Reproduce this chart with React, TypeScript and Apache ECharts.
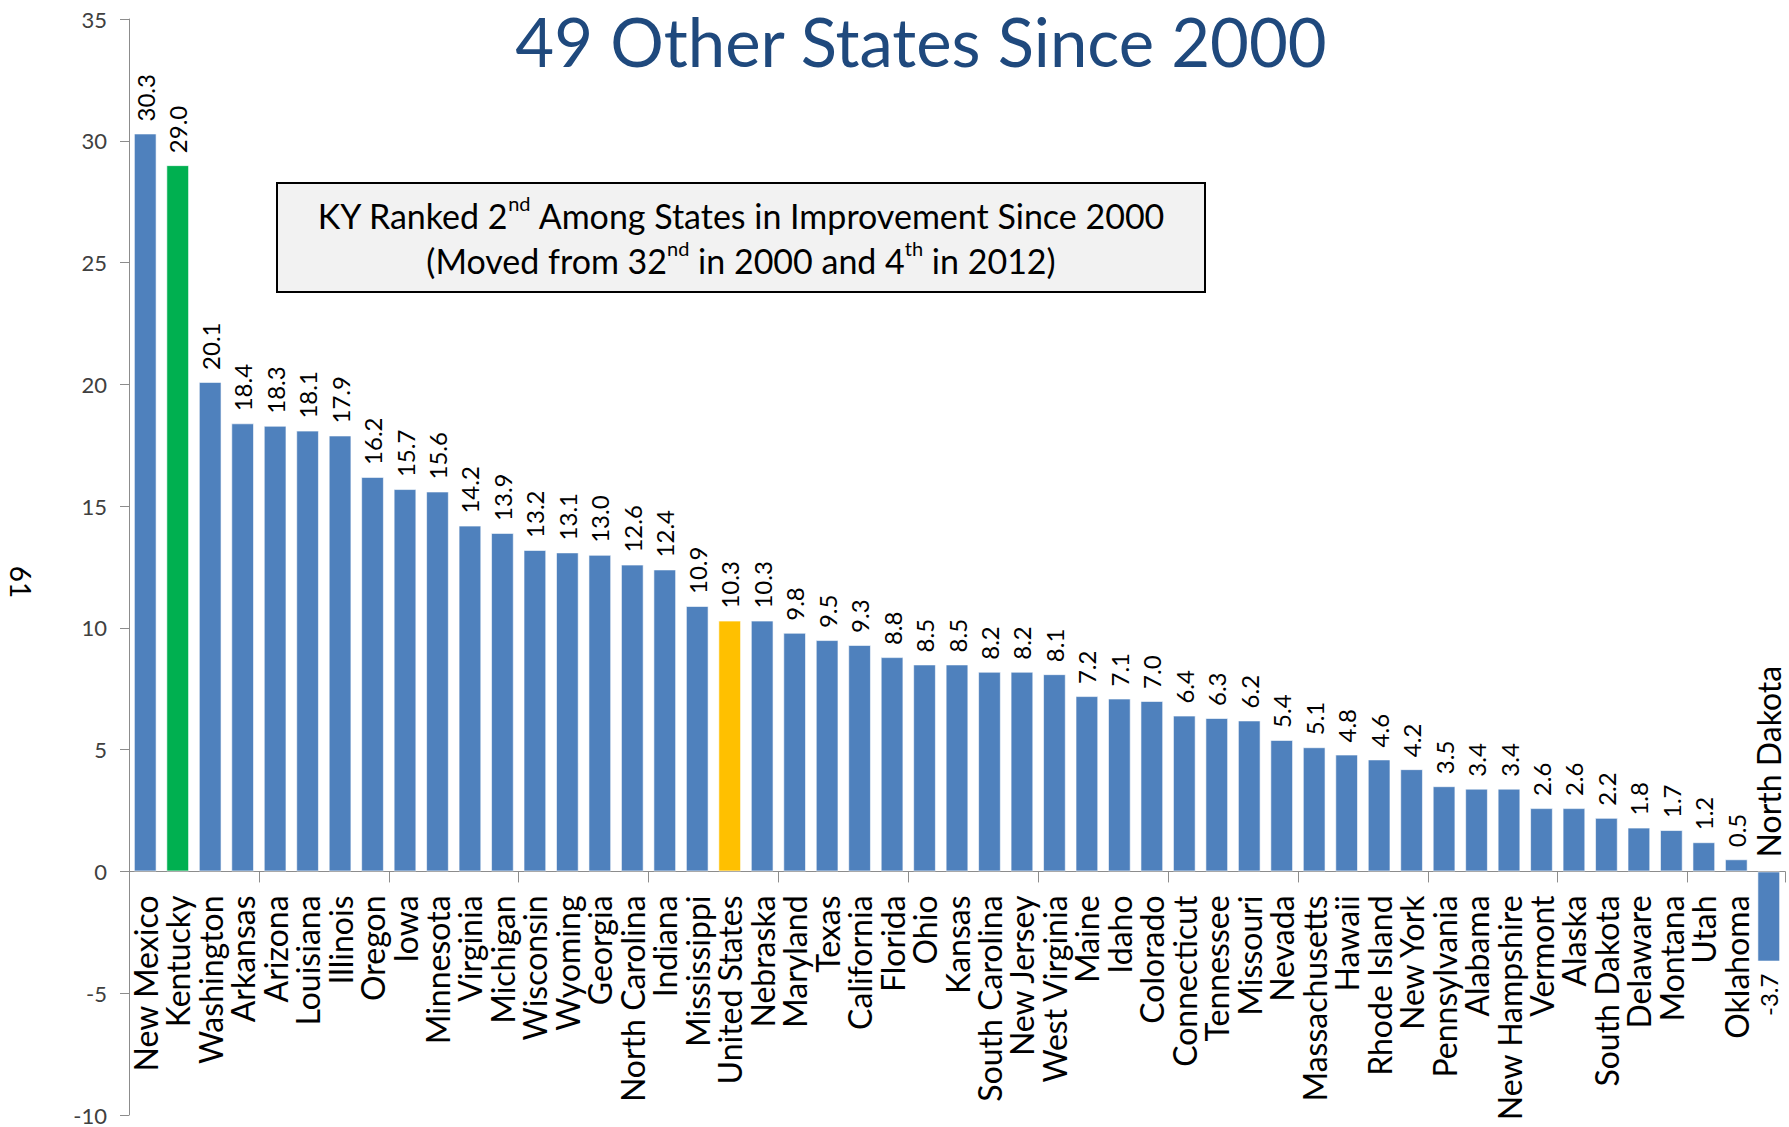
import React, { useEffect, useRef } from "react";
import * as echarts from "echarts";

const categories = [
  "New Mexico", "Kentucky", "Washington", "Arkansas", "Arizona", "Louisiana", "Illinois",
  "Oregon", "Iowa", "Minnesota", "Virginia", "Michigan", "Wisconsin", "Wyoming", "Georgia",
  "North Carolina", "Indiana", "Mississippi", "United States", "Nebraska", "Maryland", "Texas",
  "California", "Florida", "Ohio", "Kansas", "South Carolina", "New Jersey", "West Virginia",
  "Maine", "Idaho", "Colorado", "Connecticut", "Tennessee", "Missouri", "Nevada",
  "Massachusetts", "Hawaii", "Rhode Island", "New York", "Pennsylvania", "Alabama",
  "New Hampshire", "Vermont", "Alaska", "South Dakota", "Delaware", "Montana", "Utah",
  "Oklahoma", "North Dakota",
];

const values = [
  30.3, 29.0, 20.1, 18.4, 18.3, 18.1, 17.9, 16.2, 15.7, 15.6, 14.2, 13.9, 13.2, 13.1, 13.0,
  12.6, 12.4, 10.9, 10.3, 10.3, 9.8, 9.5, 9.3, 8.8, 8.5, 8.5, 8.2, 8.2, 8.1, 7.2, 7.1, 7.0,
  6.4, 6.3, 6.2, 5.4, 5.1, 4.8, 4.6, 4.2, 3.5, 3.4, 3.4, 2.6, 2.6, 2.2, 1.8, 1.7, 1.2, 0.5,
  -3.7,
];

const yTicks = { min: -10, max: 35, interval: 5 };

const titleText = "49 Other States Since 2000";
const yAxisTitle = "61";
const highlightKentucky = "Kentucky";
const highlightUS = "United States";

const BLUE = "#4F81BD";
const GREEN = "#00B050";
const YELLOW = "#FFC000";
const FONT = "Lato, 'Noto Sans', sans-serif";

export default function App() {
  const ref = useRef<HTMLDivElement>(null);

  useEffect(() => {
    if (!ref.current) return;
    const chart = echarts.init(ref.current, null, { renderer: "svg" });

    const barData = values.map((v, i) => {
      const name = categories[i];
      let color = BLUE;
      if (name === highlightKentucky) color = GREEN;
      if (name === highlightUS) color = YELLOW;
      const item: any = { value: v, itemStyle: { color } };
      if (v < 0) {
        item.label = { position: "bottom", align: "right", distance: 12 };
      }
      return item;
    });

    // zero-height helper bars that carry the category names next to the zero line;
    // a category whose value is negative gets its name above the line
    const nameData = categories.map((c, i) => {
      const item: any = { value: 0, name: c };
      if (values[i] < 0) {
        item.label = { position: "top", align: "left", distance: 14 };
      }
      return item;
    });

    chart.setOption({
      animation: false,
      backgroundColor: "#ffffff",
      title: {
        text: titleText,
        left: 916,
        top: 0,
        textAlign: "center",
        textStyle: {
          fontFamily: FONT,
          fontSize: 67,
          lineHeight: 72,
          fontWeight: "normal",
          color: "#1F497D",
        },
      },
      grid: {
        left: 129,
        right: 4,
        top: 19,
        bottom: 12,
        containLabel: false,
        outerBoundsMode: "none",
      },
      xAxis: {
        type: "category",
        data: categories,
        axisLine: { onZero: true, lineStyle: { color: "#8C8C8C", width: 1 } },
        axisTick: { show: true, length: 11, lineStyle: { color: "#8C8C8C" } },
        axisLabel: { show: false },
        splitLine: { show: false },
      },
      yAxis: {
        type: "value",
        min: yTicks.min,
        max: yTicks.max,
        interval: yTicks.interval,
        axisLine: { show: true, lineStyle: { color: "#8C8C8C" } },
        axisTick: { show: true, length: 9, lineStyle: { color: "#8C8C8C" } },
        axisLabel: { margin: 22, fontFamily: FONT, fontSize: 22, color: "#404040" },
        splitLine: { show: false },
      },
      series: [
        {
          type: "bar",
          data: barData,
          barCategoryGap: "30%",
          barGap: "-100%",
          itemStyle: { borderColor: "rgba(255,255,255,0.6)", borderWidth: 1 },
          label: {
            show: true,
            position: "top",
            rotate: 90,
            align: "left",
            verticalAlign: "middle",
            distance: 12,
            fontFamily: FONT,
            fontSize: 24,
            color: "#000000",
            formatter: (p: any) => Number(p.value).toFixed(1),
          },
        },
        {
          type: "bar",
          data: nameData,
          barCategoryGap: "30%",
          barGap: "-100%",
          itemStyle: { color: "rgba(0,0,0,0)" },
          silent: true,
          label: {
            show: true,
            position: "bottom",
            rotate: 90,
            align: "right",
            verticalAlign: "middle",
            distance: 24,
            fontFamily: FONT,
            fontSize: 32,
            color: "#000000",
            formatter: (p: any) => p.name,
          },
        },
      ],
      graphic: [
        {
          type: "text",
          x: 21,
          y: 582,
          rotation: -Math.PI / 2,
          style: {
            text: yAxisTitle,
            fontFamily: FONT,
            fontSize: 28,
            fill: "#000000",
            align: "center",
            verticalAlign: "middle",
          },
        },
        {
          type: "group",
          x: 277,
          y: 183,
          children: [
            {
              type: "rect",
              shape: { x: 0, y: 0, width: 928, height: 109 },
              style: { fill: "#F2F2F2", stroke: "#000000", lineWidth: 2 },
            },
            {
              type: "text",
              x: 464,
              y: 55,
              style: {
                text:
                  "{n|KY Ranked 2}{s|nd}{n| Among States in Improvement Since 2000}\n" +
                  "{n|(Moved from 32}{s|nd}{n| in 2000 and 4}{s|th}{n| in 2012)}",
                align: "center",
                verticalAlign: "middle",
                rich: {
                  n: { fontFamily: FONT, fontSize: 34, lineHeight: 45, fill: "#000000" },
                  s: {
                    fontFamily: FONT,
                    fontSize: 20,
                    lineHeight: 32,
                    verticalAlign: "top",
                    fill: "#000000",
                  },
                },
              },
            },
          ],
        },
      ],
    });

    return () => chart.dispose();
  }, []);

  return (
    <div
      ref={ref}
      style={{ position: "absolute", left: 0, top: 0, width: 1789, height: 1127 }}
    />
  );
}
